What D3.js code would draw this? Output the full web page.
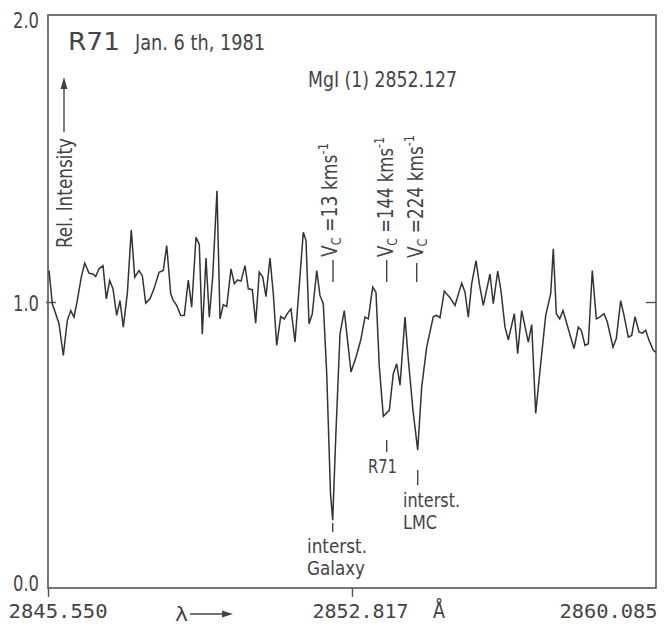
<!DOCTYPE html>
<html>
<head>
<meta charset="utf-8">
<script src="https://cdn.jsdelivr.net/npm/d3@7"></script>
<style>
  html, body { margin: 0; padding: 0; background: #fff; }
  svg { display: block; }
  text { fill: #444; }
</style>
</head>
<body>
<svg id="chart" width="669" height="627"></svg>
<script>
// ---- data ----
const wavelength = [
  2845.574, 2845.653, 2845.734, 2845.813, 2845.916, 2846.011, 2846.093, 2846.172, 2846.250, 2846.346,
  2846.427, 2846.530, 2846.626, 2846.690, 2846.769, 2846.865, 2846.944, 2847.025, 2847.104, 2847.192,
  2847.271, 2847.350, 2847.446, 2847.541, 2847.623, 2847.725, 2847.804, 2847.886, 2847.988, 2848.084,
  2848.204, 2848.306, 2848.388, 2848.483, 2848.545, 2848.627, 2848.722, 2848.808, 2848.904, 2848.985,
  2849.088, 2849.167, 2849.239, 2849.327, 2849.406, 2849.487, 2849.590, 2849.662, 2849.741, 2849.822,
  2849.925, 2850.004, 2850.085, 2850.164, 2850.260, 2850.338, 2850.434, 2850.515, 2850.601, 2850.683,
  2850.762, 2850.857, 2850.936, 2851.017, 2851.113, 2851.199, 2851.280, 2851.359, 2851.455, 2851.653,
  2851.718, 2851.790, 2851.868, 2851.974, 2852.052, 2852.131, 2852.213, 2852.304, 2852.356, 2852.435,
  2852.531, 2852.633, 2852.794, 2852.913, 2853.025, 2853.128, 2853.207, 2853.312, 2853.391, 2853.470,
  2853.566, 2853.709, 2853.805, 2853.886, 2853.965, 2854.085, 2854.163, 2854.276, 2854.388, 2854.484,
  2854.603, 2854.761, 2854.842, 2854.921, 2855.024, 2855.160, 2855.280, 2855.440, 2855.519, 2855.598,
  2855.679, 2855.782, 2855.861, 2855.956, 2856.117, 2856.195, 2856.301, 2856.379, 2856.475, 2856.554,
  2856.698, 2856.779, 2856.874, 2857.032, 2857.114, 2857.209, 2857.288, 2857.448, 2857.568, 2857.630,
  2857.702, 2857.783, 2857.862, 2857.965, 2858.125, 2858.228, 2858.299, 2858.388, 2858.467, 2858.562,
  2858.658, 2858.739, 2858.842, 2858.921, 2859.057, 2859.136, 2859.241, 2859.320, 2859.423, 2859.504,
  2859.583, 2859.679, 2859.757, 2859.839, 2859.918, 2860.020, 2860.073
];
const intensity = [
  1.110, 0.994, 0.959, 0.924, 0.813, 0.935, 0.970, 0.947, 1.005, 1.087,
  1.136, 1.101, 1.098, 1.089, 1.116, 1.127, 1.011, 1.075, 1.046, 0.953,
  1.005, 0.912, 1.029, 1.252, 1.087, 1.110, 1.092, 0.996, 1.011, 1.046,
  1.104, 1.110, 1.197, 1.029, 1.005, 0.988, 0.953, 0.953, 1.077, 0.982,
  1.226, 1.201, 0.887, 1.154, 0.947, 1.087, 1.389, 0.941, 0.991, 0.984,
  1.116, 1.064, 1.077, 1.073, 1.127, 1.046, 1.043, 0.926, 1.104, 1.087,
  1.019, 1.154, 1.029, 0.848, 0.949, 0.941, 0.961, 0.976, 0.860, 1.244,
  1.215, 0.924, 0.959, 1.110, 1.023, 0.994, 0.750, 0.330, 0.237, 0.550,
  0.889, 0.970, 0.755, 0.807, 0.866, 0.947, 0.941, 1.052, 1.034, 0.774,
  0.600, 0.621, 0.749, 0.784, 0.709, 0.947, 0.800, 0.620, 0.482, 0.703,
  0.842, 0.949, 0.953, 0.945, 1.038, 1.015, 0.988, 1.066, 1.034, 0.947,
  1.064, 1.145, 1.064, 0.988, 1.098, 0.994, 1.108, 1.040, 0.912, 0.868,
  0.959, 0.819, 0.970, 0.860, 0.921, 0.610, 0.726, 0.953, 1.029, 1.186,
  0.959, 0.941, 0.970, 0.918, 0.837, 0.912, 0.901, 0.848, 0.854, 1.110,
  0.941, 0.947, 0.959, 0.930, 0.842, 0.872, 1.005, 0.953, 0.877, 0.883,
  0.949, 0.895, 0.891, 0.901, 0.866, 0.831, 0.825
];
const xTicks = [2845.550, 2852.817, 2860.085];
const xTickLabels = ["2845.550", "2852.817", "2860.085"];
const yTicks = [0, 1, 2];
const yTickLabels = ["0.0", "1.0", "2.0"];

// absorption component velocity labels
const components = [
  { label: "13" },
  { label: "144" },
  { label: "224" }
];

// ---- drawing ----
const svg = d3.select("#chart");
const M = { left: 48, right: 656, top: 16, bottom: 588 };
const x = d3.scaleLinear().domain([xTicks[0], xTicks[2]]).range([M.left, M.right]);
const y = d3.scaleLinear().domain([0, 2]).range([M.bottom, M.top]);
const ink = "#444";
const cond = "'Liberation Sans Narrow','DejaVu Sans Condensed','Liberation Sans',sans-serif";

// frame
svg.append("rect")
  .attr("x", M.left).attr("y", M.top - 1)
  .attr("width", M.right - M.left).attr("height", M.bottom - M.top + 1)
  .attr("fill", "none").attr("stroke", "#555").attr("stroke-width", 1.6);

// x axis
const gx = svg.append("g").attr("transform", `translate(0,${M.bottom})`)
  .call(d3.axisBottom(x).tickValues(xTicks).tickSize(9).tickFormat((d, i) => xTickLabels[i]));
gx.select(".domain").remove();
gx.selectAll(".tick line").attr("stroke", "#555").attr("stroke-width", 1.4)
  .attr("opacity", (d, i) => i === 2 ? 0 : 1);
const xLabelPos = [[57.5, 99], [360, 96], [608, 98]];
gx.selectAll(".tick text")
  .attr("font-family", "'DejaVu Sans Mono',monospace")
  .attr("font-size", 20).attr("fill", ink)
  .attr("y", 30).attr("dy", 0)
  .attr("text-anchor", "middle")
  .attr("x", function(d, i) { return xLabelPos[i][0] - x(d); })
  .attr("textLength", (d, i) => xLabelPos[i][1])
  .attr("lengthAdjust", "spacingAndGlyphs");

// y axis left
const gy = svg.append("g").attr("transform", `translate(${M.left},0)`)
  .call(d3.axisLeft(y).tickValues(yTicks).tickSize(-8).tickFormat((d, i) => yTickLabels[i]));
gy.select(".domain").remove();
gy.selectAll(".tick line").attr("stroke", "#555").attr("stroke-width", 1.4)
  .attr("x2", (d) => d === 1 ? 8 : 0).attr("x1", (d) => d === 1 ? -2 : 0);
const yLabelOff = { 0: 2, 1: 8, 2: 11 };
gy.selectAll(".tick text")
  .attr("font-family", cond).attr("font-size", 21).attr("fill", ink)
  .attr("x", -9).attr("dy", 0).attr("y", d => yLabelOff[d])
  .attr("text-anchor", "end")
  .attr("textLength", 26).attr("lengthAdjust", "spacingAndGlyphs");

// y axis right (inner tick at 1.0)
const gyr = svg.append("g").attr("transform", `translate(${M.right},0)`)
  .call(d3.axisRight(y).tickValues([1]).tickSize(-10).tickFormat(""));
gyr.select(".domain").remove();
gyr.selectAll(".tick line").attr("stroke", "#555").attr("stroke-width", 1.4);

// spectrum
const pts = wavelength.map((w, i) => [w, intensity[i]]);
svg.append("path")
  .datum(pts)
  .attr("fill", "none").attr("stroke", "#333").attr("stroke-width", 1.5)
  .attr("stroke-linejoin", "miter")
  .attr("d", d3.line().x(d => x(d[0])).y(d => y(d[1])));

// helper for plain text
function label(txt, px, py, size, len, anchor) {
  const t = svg.append("text").attr("x", px).attr("y", py)
    .attr("font-family", cond).attr("font-size", size).attr("fill", ink)
    .attr("text-anchor", anchor || "start").text(txt);
  if (len) t.attr("textLength", len).attr("lengthAdjust", "spacingAndGlyphs");
  return t;
}

// titles
label("R71", 68, 50, 25, 52);
label("Jan. 6 th, 1981", 135, 50, 21, 130);
label("MgI (1) 2852.127", 308, 87, 21, 149);

// Rel. Intensity + arrow
svg.append("text")
  .attr("transform", "translate(72,248) rotate(-90)")
  .attr("font-family", cond).attr("font-size", 21).attr("fill", ink)
  .attr("textLength", 110).attr("lengthAdjust", "spacingAndGlyphs")
  .text("Rel. Intensity");
svg.append("line").attr("x1", 64).attr("x2", 64).attr("y1", 132).attr("y2", 86)
  .attr("stroke", ink).attr("stroke-width", 1.4);
svg.append("path").attr("d", "M64,77 L60.5,89 L67.5,89 Z").attr("fill", ink);

// velocity labels
const vcPos = [
  { bx: 337, by: 257, dx: 333, d1: 260, len: 114 },
  { bx: 393, by: 257, dx: 386.7, d1: 260, len: 120 },
  { bx: 423, by: 258, dx: 416.7, d1: 263, len: 123 }
];
components.forEach((c, i) => {
  const p = vcPos[i];
  svg.append("line").attr("x1", p.dx).attr("x2", p.dx).attr("y1", p.d1).attr("y2", 282)
    .attr("stroke", ink).attr("stroke-width", 1.4);
  const t = svg.append("text")
    .attr("transform", `translate(${p.bx},${p.by}) rotate(-90)`)
    .attr("font-family", cond).attr("font-size", 21).attr("fill", ink)
    .attr("textLength", p.len).attr("lengthAdjust", "spacingAndGlyphs");
  t.append("tspan").text("V");
  t.append("tspan").attr("font-size", 14).attr("dy", 4).text("C");
  t.append("tspan").attr("dy", -4).text(" =" + c.label + " kms");
  t.append("tspan").attr("font-size", 14).attr("dy", -9).text("-1");
});

// feature identifications below the spectrum
function tick(px, y1, y2) {
  svg.append("line").attr("x1", px).attr("x2", px).attr("y1", y1).attr("y2", y2)
    .attr("stroke", ink).attr("stroke-width", 1.4);
}
tick(332.7, 523, 532);
label("interst.", 307, 553, 20, 60);
label("Galaxy", 307, 575, 20, 58);
tick(386.7, 440, 452);
label("R71", 368, 473, 20, 29);
tick(417.7, 470, 485);
label("interst.", 403, 507, 19, 57);
label("LMC", 403, 529, 19, 34);

// x axis name
label("\u03bb", 175, 621, 20, 13);
svg.append("line").attr("x1", 190).attr("x2", 224).attr("y1", 614).attr("y2", 614)
  .attr("stroke", ink).attr("stroke-width", 1.4);
svg.append("path").attr("d", "M233,614 L222,610.5 L222,617.5 Z").attr("fill", ink);
label("\u00c5", 439, 618, 21, 12, "middle");
</script>
</body>
</html>
